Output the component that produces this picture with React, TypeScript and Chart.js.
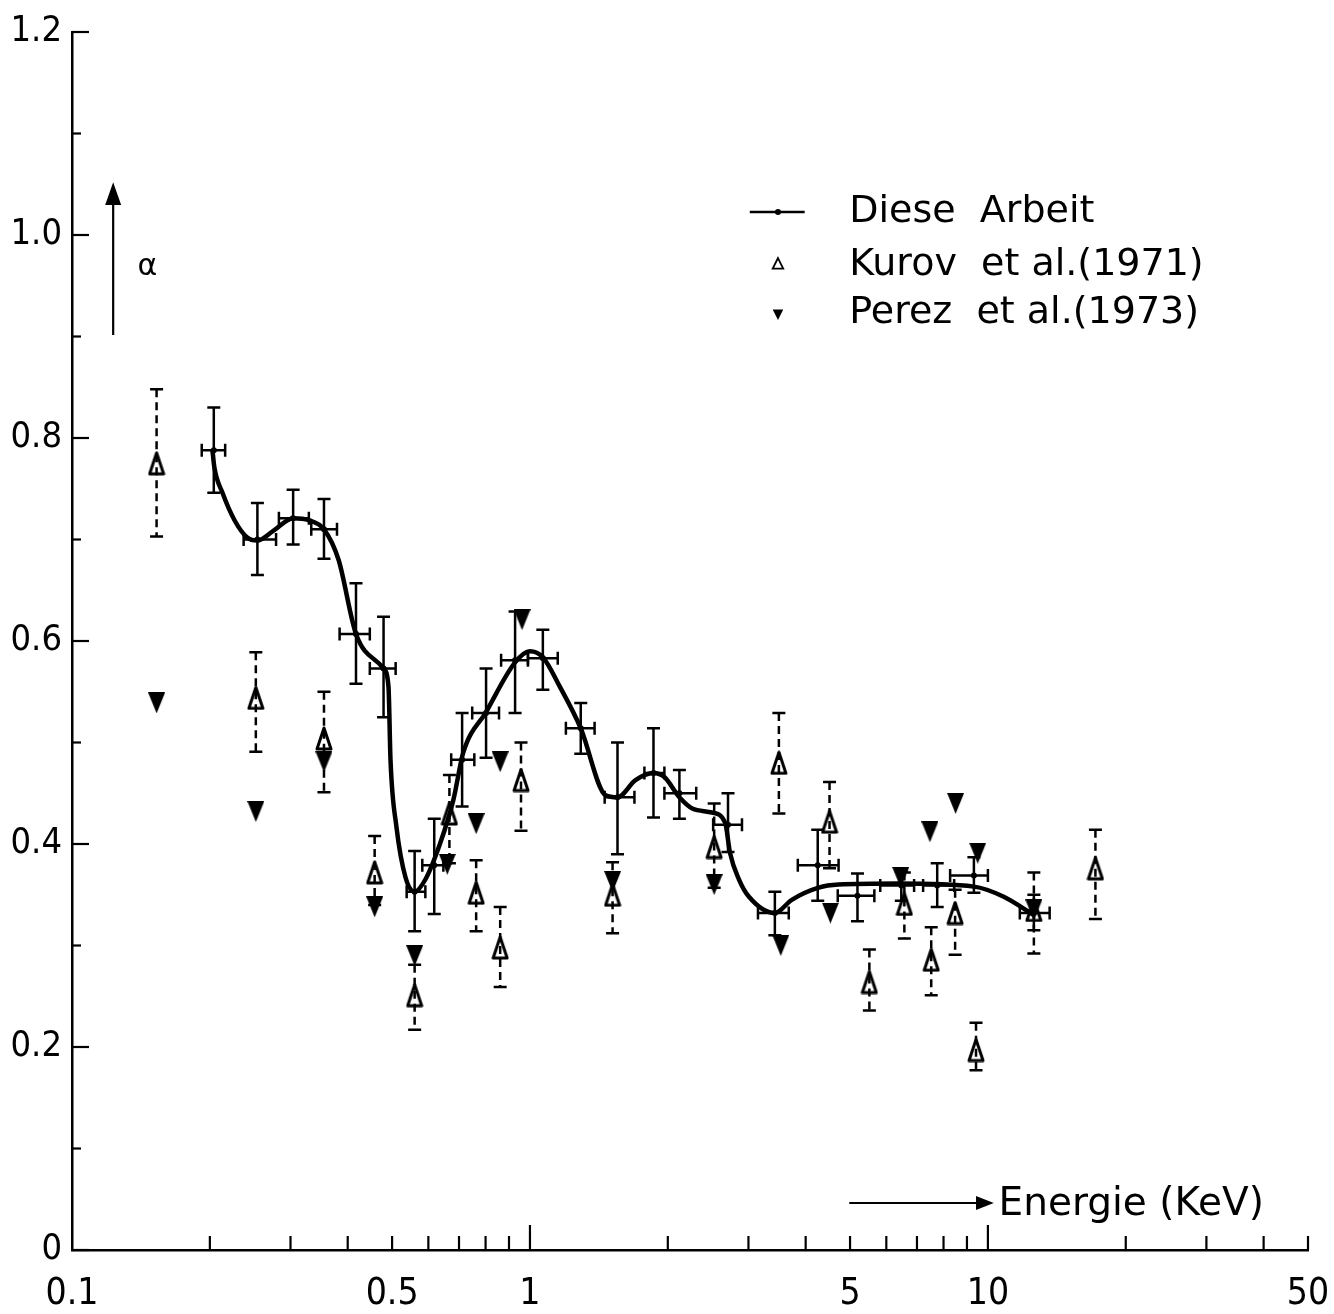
import React, { useEffect, useRef } from 'react';
import { Chart, registerables } from 'chart.js';

Chart.register(...registerables);

// ---------- Data: "Diese Arbeit" (measured points with x and y error bars) ----------
const dieseE = [0.204, 0.254, 0.304, 0.355, 0.417, 0.479, 0.56, 0.618, 0.711, 0.802, 0.928, 1.067, 1.291, 1.553, 1.861, 2.12, 2.707, 3.426, 4.25, 5.19, 6.47, 7.75, 9.32, 12.6];
const dieseAlpha = [0.788, 0.700, 0.721, 0.710, 0.607, 0.573, 0.353, 0.379, 0.483, 0.529, 0.581, 0.583, 0.514, 0.446, 0.470, 0.450, 0.419, 0.332, 0.379, 0.349, 0.359, 0.359, 0.369, 0.332];
const dieseAlphaLow = [0.746, 0.665, 0.695, 0.681, 0.558, 0.525, 0.314, 0.331, 0.437, 0.485, 0.529, 0.552, 0.489, 0.390, 0.426, 0.425, 0.392, 0.310, 0.344, 0.324, 0.344, 0.338, 0.352, 0.315];
const dieseAlphaHigh = [0.830, 0.736, 0.749, 0.740, 0.657, 0.624, 0.393, 0.425, 0.529, 0.573, 0.629, 0.611, 0.539, 0.500, 0.514, 0.473, 0.450, 0.353, 0.414, 0.371, 0.373, 0.381, 0.387, 0.350];
const dieseELow = [0.192, 0.237, 0.283, 0.333, 0.384, 0.447, 0.538, 0.582, 0.673, 0.748, 0.865, 0.99, 1.198, 1.456, 1.778, 1.966, 2.512, 3.147, 3.845, 4.70, 5.82, 7.22, 8.27, 11.74];
const dieseEHigh = [0.216, 0.279, 0.329, 0.379, 0.447, 0.509, 0.591, 0.647, 0.756, 0.856, 0.99, 1.15, 1.384, 1.691, 1.966, 2.307, 2.904, 3.674, 4.72, 5.65, 6.9, 8.44, 10.0, 13.64];

// ---------- Smooth curve through "Diese Arbeit" ----------
const curveE = [0.2025, 0.2046, 0.2131, 0.2264, 0.2413, 0.2537, 0.276, 0.304, 0.329, 0.355, 0.382, 0.417, 0.479, 0.491, 0.496, 0.511, 0.535, 0.56, 0.591, 0.637, 0.68, 0.715, 0.802, 0.928, 1.0, 1.067, 1.162, 1.291, 1.463, 1.553, 1.70, 1.861, 1.966, 2.12, 2.262, 2.499, 2.668, 2.735, 2.861, 3.008, 3.426, 3.73, 4.27, 4.72, 6.37, 9.32, 10.83, 12.59];
const curveAlpha = [0.789, 0.771, 0.746, 0.719, 0.702, 0.699, 0.709, 0.721, 0.719, 0.710, 0.680, 0.607, 0.573, 0.555, 0.483, 0.417, 0.367, 0.353, 0.365, 0.401, 0.443, 0.490, 0.530, 0.579, 0.590, 0.584, 0.555, 0.514, 0.448, 0.446, 0.463, 0.470, 0.466, 0.446, 0.435, 0.431, 0.421, 0.391, 0.365, 0.348, 0.332, 0.345, 0.357, 0.360, 0.361, 0.358, 0.348, 0.330];

// ---------- Kurov et al. (1971): open triangles, dashed error bars ----------
const kurovE = [0.153, 0.252, 0.355, 0.458, 0.56, 0.667, 0.763, 0.861, 0.956, 1.515, 2.525, 3.496, 4.51, 5.51, 6.57, 7.52, 8.48, 9.42, 12.6, 17.17];
const kurovAlpha = [0.775, 0.544, 0.504, 0.372, 0.251, 0.430, 0.352, 0.298, 0.463, 0.350, 0.397, 0.480, 0.422, 0.264, 0.341, 0.286, 0.332, 0.197, 0.335, 0.376];
const kurovLow = [0.703, 0.491, 0.451, 0.340, 0.217, 0.381, 0.314, 0.259, 0.413, 0.312, 0.357, 0.430, 0.376, 0.236, 0.307, 0.251, 0.291, 0.177, 0.292, 0.326];
const kurovHigh = [0.848, 0.589, 0.550, 0.408, 0.281, 0.468, 0.384, 0.338, 0.500, 0.382, 0.440, 0.529, 0.461, 0.296, 0.372, 0.318, 0.355, 0.224, 0.372, 0.414];

// ---------- Perez et al. (1973): filled down triangles ----------
const perezE = [0.153, 0.252, 0.355, 0.458, 0.56, 0.66, 0.763, 0.861, 0.961, 1.515, 2.525, 3.53, 4.53, 6.45, 7.47, 8.5, 9.5, 12.6];
const perezAlpha = [0.539, 0.432, 0.481, 0.338, 0.290, 0.380, 0.420, 0.481, 0.621, 0.363, 0.360, 0.300, 0.332, 0.367, 0.412, 0.440, 0.391, 0.335];

// ---------- Axes / labels ----------
const xLabelValues = [0.1, 0.5, 1, 5, 10, 50];
const xMin = 0.1;
const xMax = 50;
const yMin = 0;
const yMax = 1.2;
const yStep = 0.2;
const legendLabels = ['Diese  Arbeit', 'Kurov  et al.(1971)', 'Perez  et al.(1973)'];
const xTitle = 'Energie (KeV)';
const yTitle = 'α';

const NUM_FONT = "'Liberation Sans Narrow', 'DejaVu Sans Condensed', 'Roboto', sans-serif";
const TEXT_FONT = "'DejaVu Sans', 'Liberation Sans', sans-serif";

function pts(xs: number[], ys: number[]) {
  return xs.map((x, i) => ({ x, y: ys[i] }));
}

// marker images (elongated triangles like the original drawing)
function makeTriangle(w: number, h: number, down: boolean, filled: boolean, lw: number) {
  const c = document.createElement('canvas');
  c.width = w;
  c.height = h;
  const g = c.getContext('2d')!;
  g.strokeStyle = '#000';
  g.fillStyle = '#000';
  g.lineWidth = lw;
  g.lineJoin = 'round';
  const p = filled ? 0 : lw / 2 + 0.5;
  g.beginPath();
  if (down) {
    g.moveTo(w / 2, h - p);
    g.lineTo(w - p, p);
    g.lineTo(p, p);
  } else {
    g.moveTo(w / 2, p);
    g.lineTo(w - p, h - p);
    g.lineTo(p, h - p);
  }
  g.closePath();
  if (filled) g.fill();
  else g.stroke();
  return c;
}

export default function App() {
  const ref = useRef<HTMLCanvasElement | null>(null);

  useEffect(() => {
    const canvas = ref.current;
    if (!canvas) return;

    const kurovMarker = makeTriangle(18, 25, false, false, 3);
    const perezMarker = makeTriangle(17, 21, true, true, 1);

    const errorBars = {
      id: 'errorBars',
      beforeDatasetsDraw(chart: any) {
        const { ctx, scales } = chart;
        const x = scales.x;
        const y = scales.y;
        ctx.save();
        ctx.strokeStyle = '#000';
        ctx.lineCap = 'butt';
        ctx.lineWidth = 2.5;
        ctx.setLineDash([]);
        dieseE.forEach((e, i) => {
          const px = x.getPixelForValue(e);
          const py = y.getPixelForValue(dieseAlpha[i]);
          const yl = y.getPixelForValue(dieseAlphaLow[i]);
          const yh = y.getPixelForValue(dieseAlphaHigh[i]);
          const xl = x.getPixelForValue(dieseELow[i]);
          const xh = x.getPixelForValue(dieseEHigh[i]);
          ctx.beginPath();
          ctx.moveTo(px, yl); ctx.lineTo(px, yh);
          ctx.moveTo(px - 6.5, yl); ctx.lineTo(px + 6.5, yl);
          ctx.moveTo(px - 6.5, yh); ctx.lineTo(px + 6.5, yh);
          ctx.moveTo(xl, py); ctx.lineTo(xh, py);
          ctx.moveTo(xl, py - 6.5); ctx.lineTo(xl, py + 6.5);
          ctx.moveTo(xh, py - 6.5); ctx.lineTo(xh, py + 6.5);
          ctx.stroke();
        });
        kurovE.forEach((e, i) => {
          const px = x.getPixelForValue(e);
          const yl = y.getPixelForValue(kurovLow[i]);
          const yh = y.getPixelForValue(kurovHigh[i]);
          ctx.lineWidth = 2.5;
          ctx.setLineDash([8, 5]);
          ctx.beginPath();
          ctx.moveTo(px, yh); ctx.lineTo(px, yl);
          ctx.stroke();
          ctx.setLineDash([]);
          ctx.beginPath();
          ctx.moveTo(px - 6.5, yl); ctx.lineTo(px + 6.5, yl);
          ctx.moveTo(px - 6.5, yh); ctx.lineTo(px + 6.5, yh);
          ctx.stroke();
        });
        ctx.restore();
      },
    };

    const decorations = {
      id: 'decorations',
      afterDraw(chart: any) {
        const { ctx, scales, chartArea } = chart;
        const x = scales.x;
        const y = scales.y;
        ctx.save();
        ctx.strokeStyle = '#000';
        ctx.fillStyle = '#000';
        ctx.setLineDash([]);
        ctx.lineWidth = 2.2;
        const left = chartArea.left;
        for (let k = 0; k <= 12; k++) {
          const v = k / 10;
          const py = y.getPixelForValue(v);
          const len = k % 2 === 0 ? 17 : 9;
          ctx.beginPath();
          ctx.moveTo(left, py); ctx.lineTo(left + len, py);
          ctx.stroke();
        }
        const bottom = chartArea.bottom;
        const decades = [0.1, 1, 10];
        decades.forEach((d) => {
          for (let m = 1; m <= 9; m++) {
            const v = d * m;
            if (v < xMin - 1e-9 || v > xMax + 1e-9) continue;
            if (m === 1 && d === 0.1) continue;
            const px = x.getPixelForValue(v);
            const len = m === 1 ? 25 : 14;
            ctx.beginPath();
            ctx.moveTo(px, bottom); ctx.lineTo(px, bottom - len);
            ctx.stroke();
          }
        });

        // alpha arrow
        const ax = x.getPixelForValue(0.123);
        const a0 = y.getPixelForValue(0.9015);
        const a1 = y.getPixelForValue(1.0296);
        const a2 = y.getPixelForValue(1.052);
        ctx.lineWidth = 2.2;
        ctx.beginPath(); ctx.moveTo(ax, a0); ctx.lineTo(ax, a1); ctx.stroke();
        ctx.beginPath(); ctx.moveTo(ax, a2); ctx.lineTo(ax - 8, a1); ctx.lineTo(ax + 8, a1); ctx.closePath(); ctx.fill();
        ctx.font = `30px ${TEXT_FONT}`;
        ctx.textAlign = 'center';
        ctx.textBaseline = 'middle';
        ctx.fillText(yTitle, x.getPixelForValue(0.146), y.getPixelForValue(0.968));

        // Energie arrow
        const ey = y.getPixelForValue(0.0463);
        const ex0 = x.getPixelForValue(4.98);
        const ex1 = x.getPixelForValue(9.42);
        const ex2 = x.getPixelForValue(10.3);
        ctx.beginPath(); ctx.moveTo(ex0, ey); ctx.lineTo(ex1, ey); ctx.stroke();
        ctx.beginPath(); ctx.moveTo(ex2, ey); ctx.lineTo(ex1, ey - 7); ctx.lineTo(ex1, ey + 7); ctx.closePath(); ctx.fill();
        ctx.font = `39px ${TEXT_FONT}`;
        ctx.textAlign = 'left';
        ctx.fillText(xTitle, x.getPixelForValue(10.55), y.getPixelForValue(0.044));

        // legend
        const lx0 = x.getPixelForValue(3.02);
        const lx1 = x.getPixelForValue(3.98);
        const lm = x.getPixelForValue(3.48);
        const lt = x.getPixelForValue(4.98);
        const rows = [1.0227, 0.9704, 0.9232].map((v) => y.getPixelForValue(v));
        ctx.lineWidth = 2.5;
        ctx.beginPath(); ctx.moveTo(lx0, rows[0]); ctx.lineTo(lx1, rows[0]); ctx.stroke();
        ctx.beginPath(); ctx.arc(lm, rows[0], 3, 0, Math.PI * 2); ctx.fill();
        const r = 7;
        ctx.lineWidth = 1.8;
        ctx.beginPath();
        ctx.moveTo(lm, rows[1] - r);
        ctx.lineTo(lm + r * 0.75, rows[1] + r / 2);
        ctx.lineTo(lm - r * 0.75, rows[1] + r / 2);
        ctx.closePath(); ctx.stroke();
        ctx.beginPath();
        ctx.moveTo(lm, rows[2] + r);
        ctx.lineTo(lm + r * 0.75, rows[2] - r / 2);
        ctx.lineTo(lm - r * 0.75, rows[2] - r / 2);
        ctx.closePath(); ctx.fill();
        ctx.font = `38px ${TEXT_FONT}`;
        ctx.textAlign = 'left';
        ctx.textBaseline = 'middle';
        legendLabels.forEach((t, i) => ctx.fillText(t, lt, rows[i]));
        ctx.restore();
      },
    };

    const chart = new Chart(canvas, {
      type: 'scatter',
      data: {
        datasets: [
          {
            type: 'line',
            label: 'curve',
            data: pts(curveE, curveAlpha),
            borderColor: '#000',
            borderWidth: 4.5,
            pointRadius: 0,
            cubicInterpolationMode: 'monotone',
            fill: false,
            order: 3,
          } as any,
          {
            label: legendLabels[0],
            data: pts(dieseE, dieseAlpha),
            pointStyle: 'circle',
            pointRadius: 3,
            backgroundColor: '#000',
            borderColor: '#000',
            borderWidth: 0,
            order: 0,
          },
          {
            label: legendLabels[1],
            data: pts(kurovE, kurovAlpha),
            pointStyle: kurovMarker,
            pointRadius: 12,
            backgroundColor: 'rgba(0,0,0,0)',
            borderColor: '#000',
            borderWidth: 3,
            order: 1,
          },
          {
            label: legendLabels[2],
            data: pts(perezE, perezAlpha),
            pointStyle: perezMarker,
            pointRadius: 11,
            backgroundColor: '#000',
            borderColor: '#000',
            borderWidth: 1,
            order: 2,
          },
        ],
      },
      options: {
        responsive: false,
        animation: false,
        devicePixelRatio: 1,
        events: [],
        layout: { padding: { top: 32, right: 26, left: 0, bottom: 0 } },
        plugins: {
          legend: { display: false },
          tooltip: { enabled: false },
          title: { display: false },
        },
        scales: {
          x: {
            type: 'logarithmic',
            min: xMin,
            max: xMax,
            grid: { display: false, drawTicks: false },
            border: { display: true, color: '#000', width: 2.5 },
            afterFit: (s: any) => { s.height = 64; s.paddingLeft = 0; s.paddingRight = 0; },
            ticks: {
              autoSkip: false,
              maxRotation: 0,
              minRotation: 0,
              padding: 22,
              color: '#000',
              font: { family: NUM_FONT, size: 37 },
              callback: (v: any) => {
                const val = Number(v);
                const hit = xLabelValues.find((t) => Math.abs(t - val) / t < 1e-6);
                return hit === undefined ? '' : String(hit);
              },
            },
          },
          y: {
            type: 'linear',
            min: yMin,
            max: yMax,
            grid: { display: false, drawTicks: false },
            border: { display: true, color: '#000', width: 2.5 },
            afterFit: (s: any) => { s.width = 72; s.paddingTop = 0; s.paddingBottom = 0; },
            ticks: {
              stepSize: yStep,
              padding: 10,
              color: '#000',
              font: { family: NUM_FONT, size: 36 },
              callback: (v: any) => {
                const val = Number(v);
                return Math.abs(val) < 1e-9 ? '0' : val.toFixed(1);
              },
            },
          },
        },
      },
      plugins: [errorBars, decorations],
    } as any);

    return () => chart.destroy();
  }, []);

  return (
    <div style={{ position: 'fixed', left: 0, top: 0, width: 1334, height: 1314, background: '#fff' }}>
      <canvas ref={ref} width={1334} height={1314} style={{ display: 'block' }} />
    </div>
  );
}
